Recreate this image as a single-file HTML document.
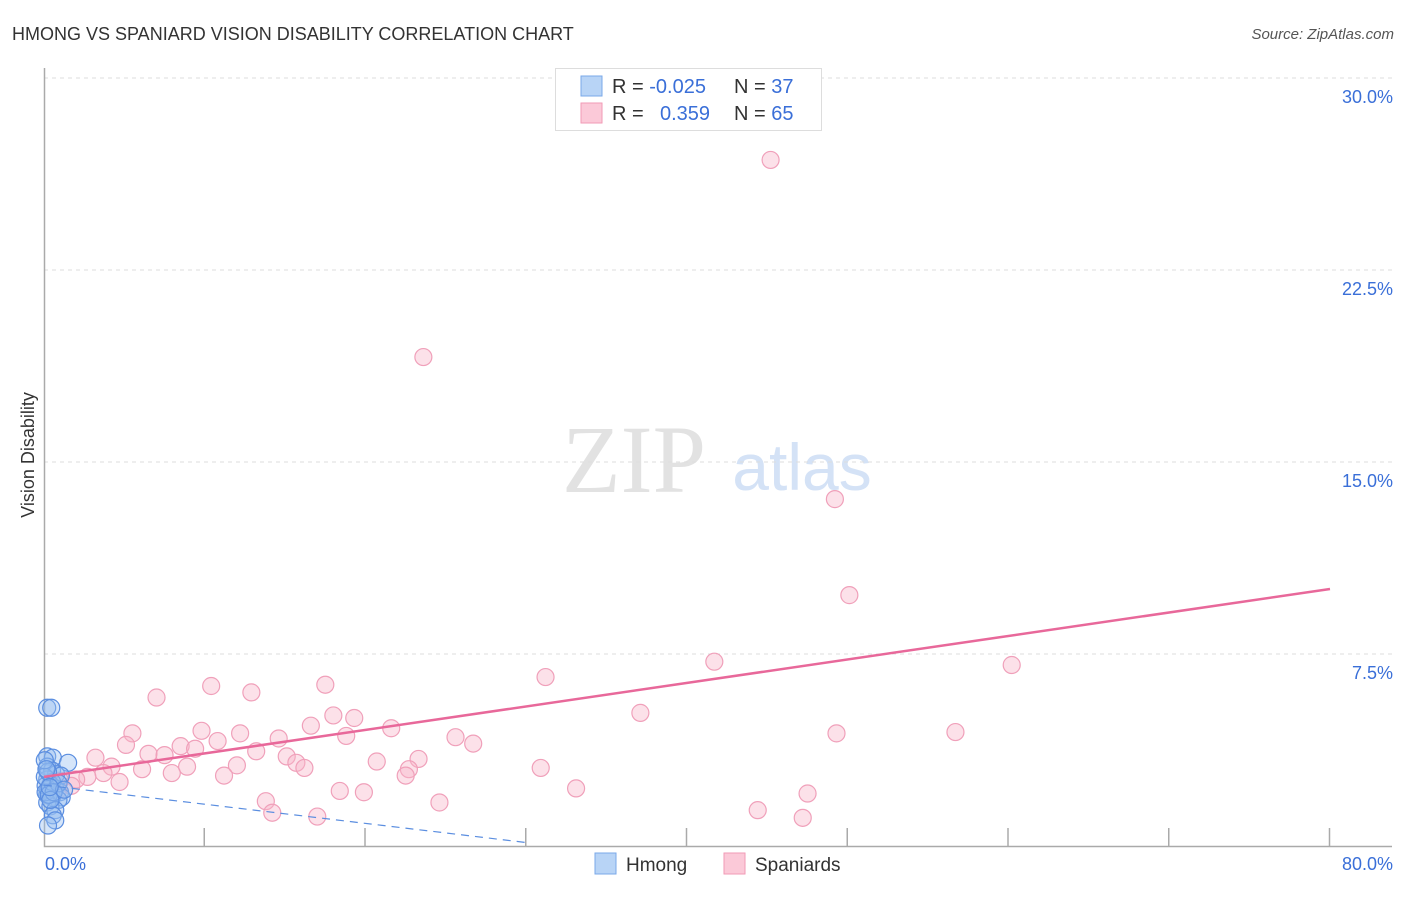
<!DOCTYPE html>
<html><head><meta charset="utf-8"><style>
body{margin:0;background:#fff;font-family:"Liberation Sans",sans-serif;}
</style></head><body>
<svg width="1406" height="892" viewBox="0 0 1406 892" xmlns="http://www.w3.org/2000/svg">
<text x="12" y="40" font-size="18" fill="#333">HMONG VS SPANIARD VISION DISABILITY CORRELATION CHART</text>
<text x="1394" y="39" font-size="15" fill="#555" font-style="italic" text-anchor="end">Source: ZipAtlas.com</text>
<text x="634" y="492" font-size="96" fill="#e2e2e2" font-family="Liberation Serif,serif" text-anchor="middle">ZIP</text>
<text x="802" y="490" font-size="66" fill="#d4e2f6" text-anchor="middle">atlas</text>
<g id="grid"></g>
<g id="axes"></g>
<g id="pts"></g>
<g id="lines"></g>
<text transform="translate(34,455) rotate(-90)" font-size="18" fill="#333" text-anchor="middle">Vision Disability</text>
<text x="45" y="870" font-size="18" fill="#3a6fd8">0.0%</text>
<text x="1393" y="870" font-size="18" fill="#3a6fd8" text-anchor="end">80.0%</text>
<g>
<rect x="555.5" y="68.5" width="266" height="62" fill="#fff" stroke="#ddd"/>
<rect x="581" y="76" width="21" height="20" fill="#b8d4f6" stroke="#7aa8e8"/>
<rect x="581" y="103" width="21" height="20" fill="#fbc9d8" stroke="#f29ab6"/>
<text x="612" y="93" font-size="20" fill="#333">R = <tspan fill="#3a6fd8">-0.025</tspan></text>
<text x="734" y="93" font-size="20" fill="#333">N = <tspan fill="#3a6fd8">37</tspan></text>
<text x="612" y="120" font-size="20" fill="#333">R = <tspan fill="#3a6fd8" x="660">0.359</tspan></text>
<text x="734" y="120" font-size="20" fill="#333">N = <tspan fill="#3a6fd8">65</tspan></text>
</g>
<g>
<rect x="595" y="853" width="21" height="21" fill="#b8d4f6" stroke="#7aa8e8"/>
<text x="626" y="871" font-size="19" fill="#333">Hmong</text>
<rect x="724" y="853" width="21" height="21" fill="#fbc9d8" stroke="#f29ab6"/>
<text x="755" y="871" font-size="19" fill="#333">Spaniards</text>
</g>
</svg>
<script>
const yTicks=[7.5,15,22.5,30];
const yTickLabels=["7.5%","15.0%","22.5%","30.0%"];
const xTicks=[10,20,30,40,50,60,70,80];
const spX=[45.2,23.6,49.2,50.1,41.7,60.2,31.2,10.4,17.5,12.9,7.0,37.1,18.0,19.3,16.6,21.6,9.8,5.5,12.2,56.7,49.3,18.8,25.6,14.6,10.8,26.7,5.1,8.5,9.4,13.2,6.5,7.5,3.2,15.1,23.3,20.7,15.7,12.0,4.2,16.2,8.9,6.1,30.9,22.7,3.7,7.95,11.2,22.5,2.7,2.0,1.0,4.7,1.7,33.1,18.4,19.9,47.5,13.8,24.6,44.4,14.2,17.0,47.2,0.9,0.4];
const spY=[26.8,19.1,13.55,9.8,7.2,7.07,6.6,6.25,6.3,6.0,5.8,5.2,5.1,5.0,4.7,4.6,4.5,4.4,4.4,4.45,4.4,4.3,4.25,4.2,4.1,4.0,3.95,3.9,3.8,3.7,3.6,3.55,3.45,3.5,3.4,3.3,3.25,3.15,3.1,3.05,3.1,3.0,3.05,3.0,2.85,2.85,2.75,2.75,2.7,2.6,2.55,2.5,2.35,2.25,2.15,2.1,2.05,1.75,1.7,1.4,1.3,1.15,1.1,2.2,2.35];
const hmX=[0.2,0.45,0.2,0.55,1.5,0.2,0.5,0.75,1.05,0.2,0.4,0.7,0.25,1.0,0.2,0.5,1.1,0.9,0.2,0.4,0.7,0.55,0.7,0.25,0.1,0.1,0.3,0.5,0.05,0.25,0.05,0.9,0.6,1.25,0.4,0.15,0.35];
const hmY=[5.4,5.4,3.5,3.45,3.25,3.1,2.95,2.8,2.75,2.6,2.4,2.25,2.2,2.1,2.0,1.9,1.9,1.8,1.7,1.55,1.4,1.2,1.0,0.8,2.35,2.1,2.0,2.5,2.7,2.9,3.35,2.45,2.1,2.2,1.8,3.0,2.3];
const spTrend=[2.7,10.04];
const hmTrend=[2.38,0.12,30.2];
const X=v=>44+v*(1286/80), Y=v=>846-v*25.6;
const NS="http://www.w3.org/2000/svg";
function mk(p,t,a){const e=document.createElementNS(NS,t);for(const k in a)e.setAttribute(k,a[k]);document.getElementById(p).appendChild(e);return e;}
yTicks.forEach((t,i)=>{
 const g=mk('grid','line',{x1:44,x2:1392,y1:Y(t),y2:Y(t),stroke:'#ddd','stroke-dasharray':'4,4'});
 
 
 const l=mk('grid','text',{x:1393,y:Y(t)+25,'font-size':18,fill:'#3a6fd8','text-anchor':'end'});
 l.textContent=yTickLabels[i];
 
 
});
const ax=mk('axes','path',{d:'M44.5,68 V846.5 H1392',fill:'none',stroke:'#aaa','stroke-width':1.5});


xTicks.forEach(t=>{
 const k=mk('axes','line',{x1:X(t)-0.5,x2:X(t)-0.5,y1:828,y2:846,stroke:'#aaa','stroke-width':1.5});
 
 
});
spX.forEach((x,i)=>{
 const c=mk('pts','circle',{cx:X(x),cy:Y(spY[i]),r:8.5,fill:'rgba(248,180,200,0.4)',stroke:'#f0a0ba','stroke-width':1.2});
 
 
});
hmX.forEach((x,i)=>{
 const c=mk('pts','circle',{cx:X(x),cy:Y(hmY[i]),r:8.5,fill:'rgba(150,190,240,0.4)',stroke:'#5b8ee0','stroke-width':1.2});
 
 
});
const sl=mk('lines','line',{x1:X(0),y1:Y(spTrend[0]),x2:X(80),y2:Y(spTrend[1]),stroke:'#e8689a','stroke-width':2.5});


const hl=mk('lines','line',{x1:X(0),y1:Y(hmTrend[0]),x2:X(hmTrend[2]),y2:Y(hmTrend[1]),stroke:'#5b8ee0','stroke-width':1.2,'stroke-dasharray':'8,6'});


</script>
</body></html>
